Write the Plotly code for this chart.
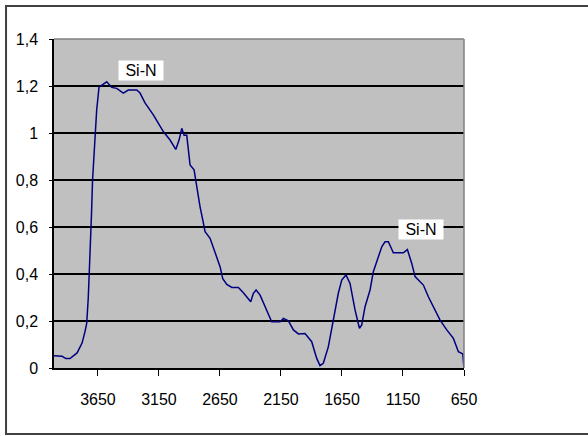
import plotly.graph_objects as go

wavenumber = [4010, 3944, 3912, 3879, 3821, 3780, 3756, 3742, 3729, 3721, 3709, 3703, 3694,
              3674, 3660, 3641, 3619, 3578, 3537, 3496, 3442, 3401, 3332, 3305, 3264, 3196,
              3114, 3059, 3012, 2985, 2963, 2944, 2922, 2895, 2862, 2840, 2813, 2791, 2772,
              2731, 2690, 2649, 2627, 2594, 2553, 2499, 2458, 2417, 2398, 2376, 2354, 2321,
              2267, 2226, 2157, 2130, 2089, 2048, 2007, 1953, 1898, 1857, 1830, 1803, 1762,
              1721, 1680, 1652, 1617, 1584, 1543, 1507, 1488, 1461, 1420, 1393, 1365, 1324,
              1297, 1270, 1229, 1147, 1114, 1078, 1051, 983, 942, 901, 846, 791, 737, 696,
              660, 650]
absorbance = [0.052, 0.05, 0.04, 0.04, 0.064, 0.106, 0.155, 0.19, 0.30, 0.39, 0.55, 0.65, 0.80,
              1.0, 1.10, 1.195, 1.204, 1.218, 1.194, 1.19, 1.17, 1.183, 1.183, 1.17, 1.128, 1.077,
              1.006, 0.97, 0.93, 0.97, 1.02, 0.99, 0.99, 0.864, 0.843, 0.77, 0.686, 0.63, 0.58,
              0.552, 0.488, 0.431, 0.38, 0.356, 0.343, 0.343, 0.32, 0.296, 0.282, 0.318, 0.332, 0.31,
              0.247, 0.197, 0.197, 0.211, 0.201, 0.162, 0.145, 0.147, 0.112, 0.041, 0.01, 0.02, 0.09,
              0.204, 0.318, 0.374, 0.396, 0.36, 0.247, 0.169, 0.183, 0.261, 0.332, 0.41, 0.452, 0.516,
              0.537, 0.537, 0.49, 0.49, 0.504, 0.445, 0.389, 0.353, 0.303, 0.261, 0.204, 0.162, 0.126, 0.069,
              0.06, 0.0]

x_ticks = [3650, 3150, 2650, 2150, 1650, 1150, 650]
y_ticks = [0, 0.2, 0.4, 0.6, 0.8, 1.0, 1.2, 1.4]

labels = ["Si-N", "Si-N"]
label_x = [3297, 1002]
label_y = [1.264, 0.59]

font = dict(family="Liberation Sans, Arial, sans-serif", size=16, color="black")

fig = go.Figure()
fig.add_trace(go.Scatter(x=wavenumber, y=absorbance, mode="lines",
                         line=dict(color="#000080", width=1.5), showlegend=False))

for t, xx, yy in zip(labels, label_x, label_y):
    fig.add_annotation(x=xx, y=yy, text=t, showarrow=False, bgcolor="white",
                       borderpad=1, width=42, height=17, align="center",
                       font=dict(family=font["family"], size=16, color="black"))

# outer chart border
fig.add_shape(type="rect", xref="paper", yref="paper", x0=-0.117, x1=1.6, y0=-0.2006, y1=1.100,
              line=dict(color="#404040", width=2), layer="below")
# plot area border top/right
fig.add_shape(type="line", xref="paper", yref="paper", x0=0, x1=1, y0=1, y1=1,
              line=dict(color="#808080", width=1.5))
fig.add_shape(type="line", xref="paper", yref="paper", x0=1, x1=1, y0=0, y1=1,
              line=dict(color="#808080", width=1.5))

fig.update_layout(
    width=588, height=436,
    margin=dict(l=54, r=124, t=39, b=68),
    paper_bgcolor="white", plot_bgcolor="#C0C0C0",
    separators=",.",
    font=font,
    xaxis=dict(range=[4010, 650], tickvals=x_ticks, ticktext=[str(v) for v in x_ticks],
               showgrid=False, zeroline=False, showline=True, linecolor="black", linewidth=1.5,
               ticks="outside", ticklen=6, tickcolor="black", tickwidth=1,
               ticklabelstandoff=10, tickfont=font),
    yaxis=dict(range=[0, 1.4], tickvals=y_ticks, showgrid=True, gridcolor="black", gridwidth=2,
               zeroline=False, showline=True, linecolor="black", linewidth=1.5,
               ticks="outside", ticklen=3, tickcolor="black",
               ticklabelstandoff=8, tickfont=font),
)

fig.write_html("out.html")
